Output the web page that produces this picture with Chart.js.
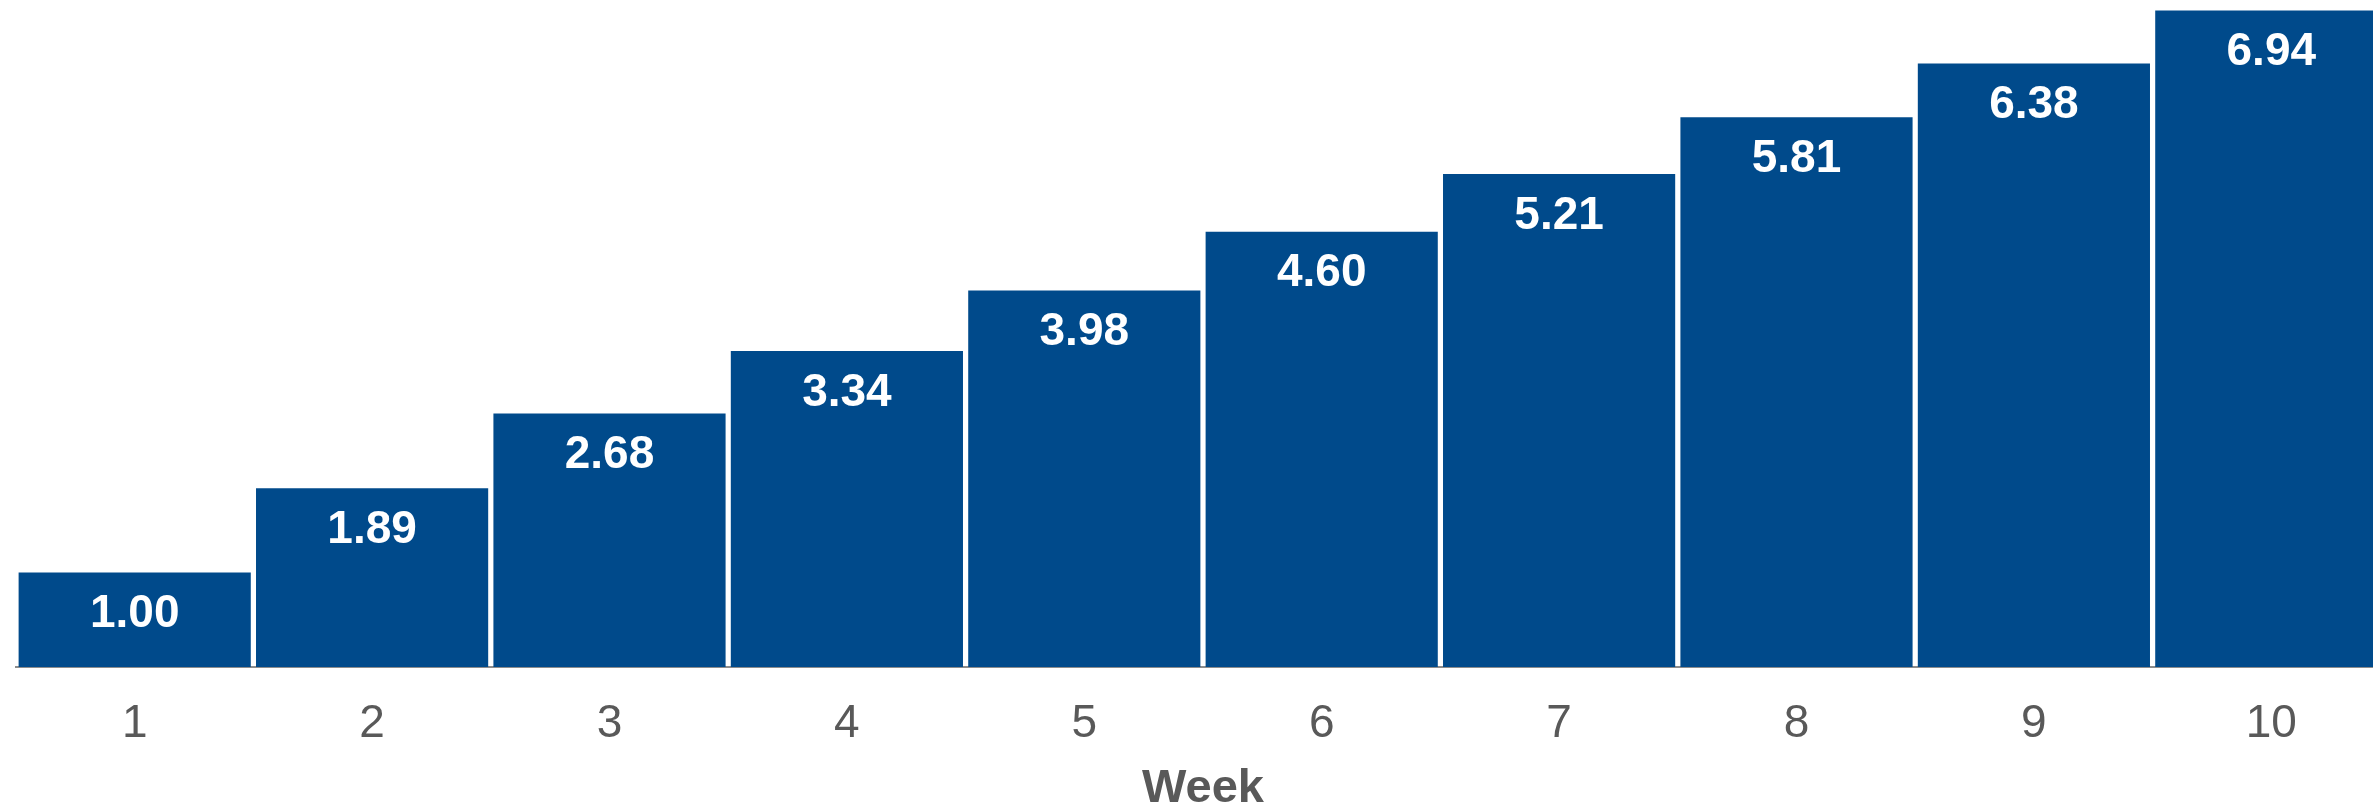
<!DOCTYPE html>
<html>
<head>
<meta charset="utf-8">
<script src="https://cdn.jsdelivr.net/npm/chart.js@4/dist/chart.umd.min.js"></script>
<style>
  html, body { margin: 0; padding: 0; background: #fff; overflow: hidden; }
  #wrap { width: 2390px; height: 808px; }
</style>
</head>
<body>
<div id="wrap"><canvas id="week_chart" width="2390" height="808"></canvas></div>
<script>
var weekLabels = ['1', '2', '3', '4', '5', '6', '7', '8', '9', '10'];
var weekValues = [1.00, 1.89, 2.68, 3.34, 3.98, 4.60, 5.21, 5.81, 6.38, 6.94];

var barColor = '#004A8B';
var fontFamily = '"Liberation Sans", Arial, sans-serif';

// white value text inside the top of every bar
var barValueLabels = {
	id: 'barValueLabels',
	afterDatasetsDraw: function(chart) {
		var ctx = chart.ctx;
		var meta = chart.getDatasetMeta(0);
		ctx.save();
		ctx.fillStyle = '#ffffff';
		ctx.font = 'bold 46px ' + fontFamily;
		ctx.textAlign = 'center';
		ctx.textBaseline = 'middle';
		meta.data.forEach(function(bar, i) {
			var v = chart.data.datasets[0].data[i];
			ctx.fillText(v.toFixed(2), bar.x, bar.y + 42);
		});
		ctx.restore();
	}
};

var ctx = document.getElementById('week_chart').getContext('2d');
var chart = new Chart(ctx, {
	type: 'bar',
	plugins: [barValueLabels],
	data: {
		labels: weekLabels,
		datasets: [{
			data: weekValues,
			backgroundColor: barColor,
			borderWidth: 0,
			categoryPercentage: 1.0,
			barPercentage: 0.978
		}]
	},
	options: {
		responsive: false,
		animation: false,
		layout: {
			padding: { left: 16, right: 0, top: 0, bottom: 0 }
		},
		plugins: {
			legend: { display: false },
			tooltip: { enabled: false }
		},
		scales: {
			x: {
				// fixed axis band under the bars
				afterFit: function(scale) {
					scale.height = 141;
				},
				grid: { display: false, drawTicks: false },
				border: { display: true, color: '#8c8c8c', width: 2 },
				ticks: {
					color: '#595959',
					padding: 30,
					font: { family: fontFamily, size: 46 }
				},
				title: {
					display: true,
					text: 'Week',
					color: '#595959',
					padding: { top: 0, bottom: 0 },
					font: { family: fontFamily, size: 47, weight: 'bold', lineHeight: 0.8 }
				}
			},
			y: {
				display: false,
				min: 0,
				max: 7.05
			}
		}
	}
});
</script>
</body>
</html>
